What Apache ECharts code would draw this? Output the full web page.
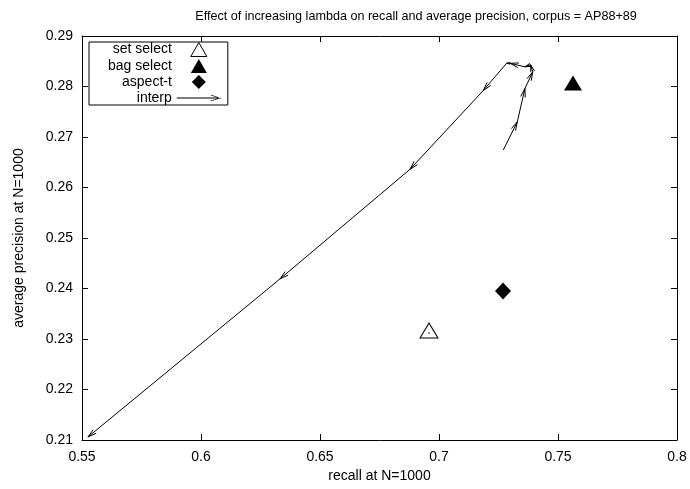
<!DOCTYPE html>
<html><head><meta charset="utf-8">
<script src="https://cdn.jsdelivr.net/npm/echarts@6/dist/echarts.min.js"></script>
<style>html,body{margin:0;padding:0;background:#fff}#c{width:690px;height:489px}</style>
</head><body><div id="c"></div>
<script>
const titleText = 'Effect of increasing lambda on recall and average precision, corpus = AP88+89';
const xName = 'recall at N=1000';
const yName = 'average precision at N=1000';
const xTicks = [0.55, 0.6, 0.65, 0.7, 0.75, 0.8];
const yTicks = [0.21, 0.22, 0.23, 0.24, 0.25, 0.26, 0.27, 0.28, 0.29];
const legendNames = ['set select', 'bag select', 'aspect-t', 'interp'];
const setSelect = [[0.6958, 0.2312]];
const bagSelect = [[0.7563, 0.2802]];
const aspectT = [[0.7269, 0.2395]];
const interpX = [0.7270, 0.7329, 0.7361, 0.7394, 0.7385, 0.7361, 0.7298, 0.7284, 0.7186, 0.6878, 0.6332, 0.5525];
const interpY = [0.2674, 0.2730, 0.2796, 0.2829, 0.2843, 0.2839, 0.2846, 0.2846, 0.2792, 0.2636, 0.2419, 0.2106];

const FONT = '"Liberation Sans", Arial, Helvetica, sans-serif';
const segs = [];
for (let i = 0; i < interpX.length - 1; i++) segs.push([interpX[i], interpY[i], interpX[i + 1], interpY[i + 1]]);
const fmt = v => String(+(+v).toFixed(2));

function axisCommon(ticks, show, margin) {
  return {
    type: 'value', min: ticks[0], max: ticks[ticks.length - 1],
    interval: +(ticks[1] - ticks[0]).toFixed(4),
    axisLine: {show: true, lineStyle: {color: '#000', width: 1}},
    axisTick: {show: true, inside: true, length: 6, lineStyle: {color: '#000', width: 1}},
    axisLabel: {show: show, color: '#000', fontSize: 14, fontFamily: FONT, formatter: fmt, margin: margin},
    splitLine: {show: false}
  };
}

const chart = echarts.init(document.getElementById('c'));
const A = Math.PI / 12;
chart.setOption({
  animation: false,
  backgroundColor: '#fff',
  title: {text: titleText, left: 411, top: 5, textAlign: 'center',
    textStyle: {color: '#000', fontSize: 12.6, fontWeight: 'normal', fontFamily: FONT}},
  grid: {left: 82, right: 13, top: 36, bottom: 49, containLabel: false},
  xAxis: [
    Object.assign(axisCommon(xTicks, true, 10), {position: 'bottom', name: xName, nameLocation: 'middle', nameGap: 29,
      nameTextStyle: {color: '#000', fontSize: 14, fontFamily: FONT}}),
    Object.assign(axisCommon(xTicks, false, 8), {position: 'top'})
  ],
  yAxis: [
    Object.assign(axisCommon(yTicks, true, 9), {position: 'left', name: yName, nameLocation: 'middle', nameGap: 56,
      nameTextStyle: {color: '#000', fontSize: 14, fontFamily: FONT}}),
    Object.assign(axisCommon(yTicks, false, 8), {position: 'right'})
  ],
  legend: {
    orient: 'vertical', align: 'right', left: 89, top: 42,
    itemWidth: 44, itemHeight: 14, itemGap: 2,
    padding: [0, 7, 0, 19],
    borderColor: '#000', borderWidth: 1, borderRadius: 0,
    selectedMode: false,
    textStyle: {color: '#000', fontSize: 14, fontFamily: FONT},
    data: [
      {name: legendNames[0], icon: 'path://M8,0L16,14L0,14Z', itemStyle: {color: '#fff', borderColor: '#000', borderWidth: 1, opacity: 1}},
      {name: legendNames[1], icon: 'path://M8,0L16,14L0,14Z', itemStyle: {color: '#000', borderWidth: 0, opacity: 1}},
      {name: legendNames[2], icon: 'path://M8,0L16,8L8,16L0,8Z', itemStyle: {color: '#000', borderWidth: 0, opacity: 1}},
      {name: legendNames[3], icon: 'path://M0,2.5L40,2.5L40,3.5L0,3.5ZM40,3L31,0L31,0.8L38.5,3ZM40,3L31,6L31,5.2L38.5,3Z', itemStyle: {color: '#000', borderWidth: 0, opacity: 1}}
    ]
  },
  series: [
    {name: legendNames[0], type: 'scatter', data: setSelect, symbol: 'triangle', symbolSize: [18, 15], symbolOffset: [0, -2.5],
      itemStyle: {color: '#fff', borderColor: '#000', borderWidth: 1, opacity: 1}, z: 3},
    {name: legendNames[1], type: 'scatter', data: bagSelect, symbol: 'triangle', symbolSize: [18, 15], symbolOffset: [0, -2.5],
      itemStyle: {color: '#000', opacity: 1}, z: 3},
    {name: legendNames[2], type: 'scatter', data: aspectT, symbol: 'diamond', symbolSize: [16, 17],
      itemStyle: {color: '#000', opacity: 1}, z: 3},
    {name: 'dot', type: 'scatter', data: setSelect, symbol: 'circle', symbolSize: 1.5, itemStyle: {color: '#000', opacity: 1}, silent: true, z: 4},
    {name: legendNames[3], type: 'custom', data: segs, encode: {x: [0, 2], y: [1, 3]}, itemStyle: {color: '#000'},
      renderItem: function (params, api) {
        const p1 = api.coord([api.value(0), api.value(1)]);
        const p2 = api.coord([api.value(2), api.value(3)]);
        const dx = p2[0] - p1[0], dy = p2[1] - p1[1];
        const len = Math.hypot(dx, dy) || 1;
        const bx = -dx / len, by = -dy / len;
        const L = Math.min(9, len);
        const c = Math.cos(A), s = Math.sin(A);
        const h1 = [p2[0] + L * (bx * c - by * s), p2[1] + L * (bx * s + by * c)];
        const h2 = [p2[0] + L * (bx * c + by * s), p2[1] + L * (-bx * s + by * c)];
        return {type: 'group', children: [
          {type: 'line', shape: {x1: p1[0], y1: p1[1], x2: p2[0], y2: p2[1]}, style: {stroke: '#000', lineWidth: 1}},
          {type: 'polyline', shape: {points: [h1, p2, h2]}, style: {stroke: '#000', fill: null, lineWidth: 1}}
        ]};
      }}
  ]
});
</script></body></html>
